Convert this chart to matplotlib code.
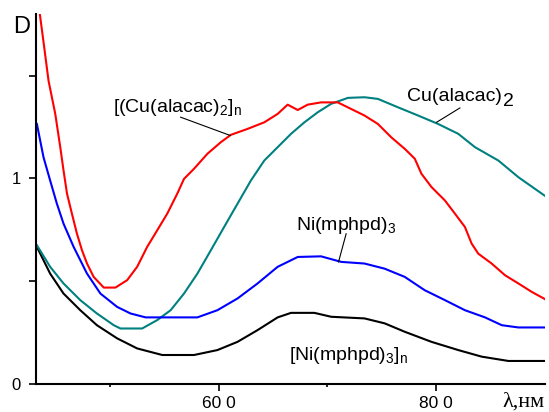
import matplotlib
matplotlib.use("Agg")
import matplotlib.pyplot as plt

plt.rcParams['font.family'] = ['Liberation Sans', 'DejaVu Sans']
plt.rcParams['mathtext.default'] = 'regular'

# absorption spectra: wavelength, nm -> optical density D
wl_cu_poly = [433, 435, 439, 443.5, 449.7, 454.3, 457.3, 460.5, 465, 469.6, 474.3, 478.9, 485,
              494.3, 505, 515.8, 525, 534.2, 543.5, 552.7, 561.9, 568.1, 577.3, 589.6, 601.9,
              611.1, 626.5, 641.9, 654.2, 663.4, 668, 672.7, 681.8, 694.1, 709.5, 721.8, 734.1,
              746.4, 758.7, 771.1, 780.3, 786.4, 795.7, 808, 817.2, 826.4, 832.6, 838.7, 851,
              863.3, 875.6, 887.9, 901.7]
d_cu_poly = [1.88, 1.82, 1.66, 1.476, 1.314, 1.152, 1.039, 0.926, 0.829, 0.732, 0.650, 0.586,
             0.521, 0.469, 0.469, 0.505, 0.570, 0.667, 0.748, 0.829, 0.926, 0.998, 1.047, 1.120,
             1.176, 1.212, 1.241, 1.273, 1.314, 1.359, 1.346, 1.333, 1.359, 1.370, 1.370, 1.338,
             1.306, 1.265, 1.200, 1.144, 1.096, 1.023, 0.958, 0.893, 0.829, 0.764, 0.683, 0.634,
             0.586, 0.529, 0.489, 0.448, 0.408]

wl_cu = [432.8, 445, 457.3, 472.7, 488, 503.5, 509.6, 529.6, 543.5, 555.8, 568.1, 580.4, 592.7,
         605, 617.3, 629.6, 641.9, 654.2, 666.5, 678.8, 691.1, 703.4, 718.8, 734.1, 746.4, 764.9,
         783.4, 801.8, 820.3, 835.7, 857.2, 875.6, 901.7]
d_cu = [0.675, 0.570, 0.489, 0.408, 0.343, 0.286, 0.270, 0.270, 0.311, 0.359, 0.440, 0.537, 0.650,
        0.764, 0.877, 0.990, 1.087, 1.152, 1.217, 1.273, 1.322, 1.363, 1.392, 1.395, 1.387, 1.346,
        1.306, 1.265, 1.217, 1.152, 1.087, 1.006, 0.909]

wl_ni = [432.8, 438.9, 445, 451.2, 457.3, 466.6, 478.9, 491.2, 506.6, 518.9, 532.8, 580.4, 598.8,
         617.3, 635.7, 654.2, 672.7, 694.1, 712.7, 734.1, 752.6, 771.1, 789.5, 808, 826.4, 844.9,
         860.3, 875.6, 901.7]
d_ni = [1.265, 1.103, 0.990, 0.877, 0.780, 0.667, 0.537, 0.440, 0.375, 0.343, 0.324, 0.324, 0.359,
        0.416, 0.489, 0.570, 0.618, 0.621, 0.594, 0.586, 0.561, 0.521, 0.456, 0.408, 0.359, 0.324,
        0.286, 0.275, 0.275]

wl_ni_poly = [432.8, 445, 457.3, 472.7, 488, 506.6, 525, 548.1, 577.3, 598.8, 617.3, 635.7, 654.2,
              666.5, 688, 703.4, 734.1, 752.6, 771.1, 795.7, 820.3, 841.8, 866.4, 901.7]
d_ni_poly = [0.667, 0.537, 0.440, 0.359, 0.286, 0.222, 0.173, 0.141, 0.141, 0.165, 0.205, 0.262,
             0.324, 0.346, 0.346, 0.327, 0.319, 0.295, 0.254, 0.205, 0.165, 0.133, 0.112, 0.112]

fig = plt.figure(figsize=(5.49, 4.12), dpi=100)
ax = fig.add_axes([0.0656, 0.068, 0.927, 0.898])

ax.plot(wl_ni_poly, d_ni_poly, color='black', lw=1.5)
ax.plot(wl_cu, d_cu, color='#008080', lw=1.5)
ax.plot(wl_ni, d_ni, color='#0000ff', lw=1.5)
ax.plot(wl_cu_poly, d_cu_poly, color='#ff0000', lw=1.5)

ax.set_xlim(432, 900)
ax.set_ylim(0, 1.8)
for s in ['top', 'right']:
    ax.spines[s].set_visible(False)
for s in ['left', 'bottom']:
    ax.spines[s].set_linewidth(1.5)

ax.set_xticks([600, 800])
ax.set_xticklabels(['60 0', '80 0'])
ax.set_xticks([500, 700], minor=True)
ax.set_yticks([0, 1])
ax.set_yticklabels(['0', '1'])
ax.set_yticks([0.5, 1.5], minor=True)
ax.tick_params(axis='both', which='major', length=5, width=1.2, direction='out')
ax.tick_params(axis='x', which='major', pad=3.5, labelsize=12.5)
ax.tick_params(axis='y', which='major', pad=6, labelsize=12)
ax.tick_params(axis='y', which='minor', length=5, width=1.2)
ax.tick_params(axis='x', which='minor', length=2, width=1.2)

ax.text(-0.045, 0.966, 'D', transform=ax.transAxes, fontsize=17, ha='left', va='center')
ax.text(1.0, -0.05, 'λ,нм', transform=ax.transAxes, fontsize=16, ha='right', va='center',
        family=['Liberation Serif', 'DejaVu Serif'])

ax.text(503, 1.345, r'[(Cu(alacac)$_2$]$_n$', fontsize=14, va='center')
ax.plot([565, 610.6], [1.298, 1.209], color='black', lw=0.8)

ax.text(773, 1.40, 'Cu(alacac)', fontsize=14, va='center')
ax.text(861, 1.375, '2', fontsize=14, va='center')
ax.plot([821.8, 800.3], [1.343, 1.273], color='black', lw=0.8)

ax.text(671, 0.77, r'Ni(mphpd)$_3$', fontsize=14, va='center')
ax.plot([717.2, 710.2], [0.731, 0.594], color='black', lw=0.8)

ax.text(665, 0.14, r'[Ni(mphpd)$_3$]$_n$', fontsize=14, va='center')

fig.savefig('out.png', dpi=100)
